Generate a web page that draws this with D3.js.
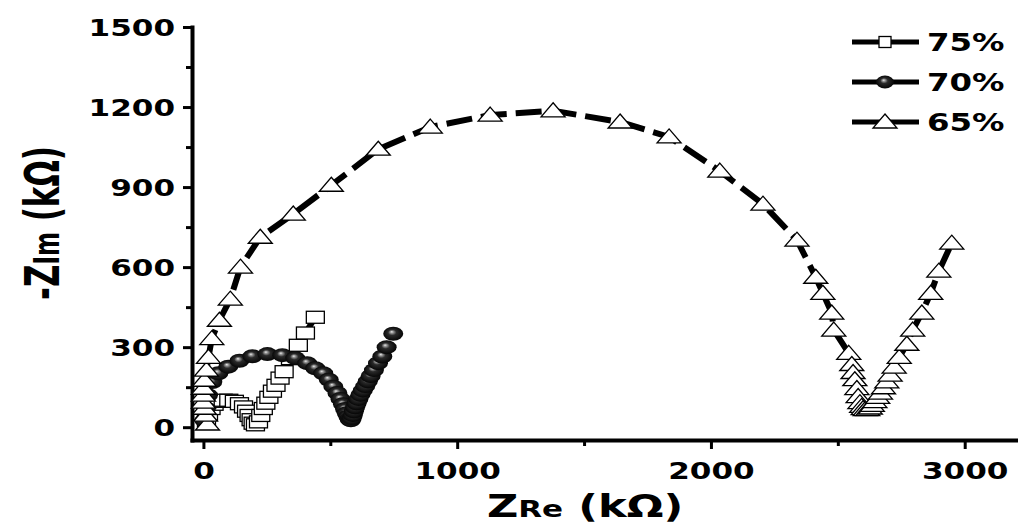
<!DOCTYPE html>
<html>
<head>
<meta charset="utf-8">
<script src="https://cdn.jsdelivr.net/npm/d3@7"></script>
<style>
body { margin: 0; background: #fff; }
svg { display: block; }
text { font-family: "DejaVu Sans", Verdana, sans-serif; font-weight: bold; fill: #000; }
</style>
</head>
<body>
<svg id="chart" width="1018" height="527"></svg>
<script>
// series (kOhm)
var x75 = [12, 20, 30, 42, 58, 78, 100, 122, 142, 158, 170, 180, 188, 196, 205, 217, 226, 236, 246, 258, 272, 286, 302, 318, 343, 374, 402, 441];
var y75 = [25, 48, 70, 86, 97, 101, 101, 97, 88, 76, 60, 44, 28, 15, 9, 20, 44, 70, 90, 112, 135, 157, 184, 208, 257, 307, 353, 412];

var x70 = [4, 10, 18, 35, 59, 98, 142, 193, 252, 311, 362, 409, 441, 472, 494, 512, 528, 540, 550, 558, 565, 571, 576, 581, 585, 589, 593, 598, 604, 611, 619, 628, 638, 648, 659, 672, 688, 705, 722, 748];
var y70 = [25, 70, 120, 169, 202, 227, 249, 266, 274, 270, 259, 240, 221, 202, 178, 152, 128, 106, 86, 68, 52, 40, 30, 26, 34, 46, 60, 75, 90, 106, 122, 138, 154, 172, 192, 214, 240, 265, 300, 350];

var x65 = [16, 8, 4, 0, 0, 0, 4, 12, 20, 33, 63, 106, 146, 224, 354, 504, 689, 894, 1130, 1378, 1642, 1835, 2035, 2205, 2339, 2413, 2441, 2476, 2484, 2543, 2555, 2560, 2567, 2575, 2580, 2587, 2594, 2600, 2608, 2618, 2628, 2636, 2646, 2657, 2668, 2680, 2693, 2706, 2722, 2742, 2772, 2795, 2831, 2866, 2898, 2949];
var y65 = [12, 45, 71, 94, 120, 146, 176, 214, 262, 332, 401, 480, 600, 712, 799, 907, 1042, 1125, 1170, 1186, 1144, 1088, 960, 836, 701, 562, 502, 428, 364, 277, 235, 205, 178, 145, 115, 92, 78, 70, 66, 66, 72, 82, 96, 112, 128, 148, 170, 195, 225, 262, 311, 364, 428, 502, 585, 690];

var seriesNames = ["75%", "70%", "65%"];
var xTicks = [0, 1000, 2000, 3000];
var xMinor = [500, 1500, 2500];
var yTicks = [0, 300, 600, 900, 1200, 1500];
var yMinor = [150, 450, 750, 1050, 1350];

var svg = d3.select("#chart");
var stretchK = 1.35; // the glyphs in the picture are wide

//scales
var x = d3.scaleLinear().domain([-45, 3210]).range([192, 1018]);
var y = d3.scaleLinear().domain([-48, 1500]).range([440, 27]);

function zip(xs, ys) {
	return xs.map(function(v, i) { return [v, ys[i]]; });
}

function stretch(sel) {
	sel.each(function() {
		var w = this.getComputedTextLength();
		d3.select(this).attr("textLength", w * stretchK).attr("lengthAdjust", "spacingAndGlyphs");
	});
}

//gradient for the ball markers
var defs = svg.append("defs");
var grad = defs.append("radialGradient").attr("id", "ball")
	.attr("cx", "50%").attr("cy", "50%").attr("r", "55%")
	.attr("fx", "42%").attr("fy", "35%");
grad.append("stop").attr("offset", "0%").attr("stop-color", "#eeeeee");
grad.append("stop").attr("offset", "14%").attr("stop-color", "#9a9a9a");
grad.append("stop").attr("offset", "38%").attr("stop-color", "#2a2a2a");
grad.append("stop").attr("offset", "100%").attr("stop-color", "#000");

//axes
var fmt = d3.format("d");
var yAxis = svg.append("g").attr("transform", "translate(192,0)")
	.call(d3.axisLeft(y).tickValues(yTicks).tickFormat(fmt).tickSize(9).tickSizeOuter(0).tickPadding(8));
var yMinorAxis = svg.append("g").attr("transform", "translate(192,0)")
	.call(d3.axisLeft(y).tickValues(yMinor).tickSize(6).tickFormat(""));
yMinorAxis.select(".domain").remove();

var xAxis = svg.append("g").attr("transform", "translate(0,440)")
	.call(d3.axisBottom(x).tickValues(xTicks).tickFormat(fmt).tickSize(9).tickSizeOuter(0).tickPadding(9));
var xMinorAxis = svg.append("g").attr("transform", "translate(0,440)")
	.call(d3.axisBottom(x).tickValues(xMinor).tickSize(6).tickFormat(""));
xMinorAxis.select(".domain").remove();

svg.selectAll(".domain").attr("stroke", "#000").attr("stroke-width", 4).attr("stroke-linecap", "square");
svg.selectAll(".tick line").attr("stroke", "#000").attr("stroke-width", 3);
svg.selectAll(".tick text").style("font-size", "23px").style("font-family", "'DejaVu Sans'").style("font-weight", "bold");
yAxis.selectAll(".tick text").attr("dy", "0.36em");
xAxis.selectAll(".tick text").attr("dy", "0.9em");
svg.selectAll(".tick text").call(stretch);

//axis titles
var xt = svg.append("text").attr("text-anchor", "middle")
	.attr("transform", "translate(585,517) scale(" + stretchK + ",1)")
	.style("font-size", "32px");
xt.append("tspan").text("Z");
xt.append("tspan").style("font-size", "23px").text("Re");
xt.append("tspan").text(" (k\u03A9)");

var yt = svg.append("text").attr("text-anchor", "middle")
	.attr("transform", "translate(59,223) rotate(-90) scale(1,1.55)")
	.style("font-size", "31px");
yt.append("tspan").text("-Z");
yt.append("tspan").style("font-size", "23px").text("Im");
yt.append("tspan").text(" (k\u03A9)");

//lines
var line = d3.line().x(function(d) { return x(d[0]); }).y(function(d) { return y(d[1]); });

function drawLine(data) {
	svg.append("path").datum(data)
		.attr("d", line)
		.attr("fill", "none")
		.attr("stroke", "#000")
		.attr("stroke-width", 6)
		.attr("stroke-dasharray", "26,9");
}

function square(g, cx, cy, w, h) {
	g.append("rect").attr("x", cx - w / 2).attr("y", cy - h / 2)
		.attr("width", w).attr("height", h)
		.attr("fill", "#fff").attr("stroke", "#000").attr("stroke-width", 1.3);
}
function ball(g, cx, cy, rx, ry) {
	g.append("ellipse").attr("cx", cx).attr("cy", cy)
		.attr("rx", rx).attr("ry", ry)
		.attr("fill", "url(#ball)");
}
function tri(g, cx, cy, w, h) {
	g.append("path")
		.attr("d", "M" + cx + "," + (cy - h * 0.57) + "L" + (cx + w / 2) + "," + (cy + h * 0.43) + "L" + (cx - w / 2) + "," + (cy + h * 0.43) + "Z")
		.attr("fill", "#fff").attr("stroke", "#000").attr("stroke-width", 1.3);
}

// 75% - squares
var d75 = zip(x75, y75);
drawLine(d75);
var g75 = svg.append("g");
d75.forEach(function(d) { square(g75, x(d[0]), y(d[1]), 18, 12); });

// 70% - balls
var d70 = zip(x70, y70);
drawLine(d70);
var g70 = svg.append("g");
d70.forEach(function(d) { ball(g70, x(d[0]), y(d[1]), 10, 7); });

// 65% - triangles
var d65 = zip(x65, y65);
drawLine(d65);
var g65 = svg.append("g");
d65.forEach(function(d) { tri(g65, x(d[0]), y(d[1]), 24, 14); });

//legend
var legY = [42, 82, 122];
var markers = [
	function(g, cx, cy) { square(g, cx, cy, 12, 11); },
	function(g, cx, cy) { ball(g, cx, cy, 9, 6.5); },
	function(g, cx, cy) { tri(g, cx, cy, 24, 14); }
];
seriesNames.forEach(function(name, i) {
	var g = svg.append("g");
	g.append("line").attr("x1", 852).attr("x2", 919)
		.attr("y1", legY[i]).attr("y2", legY[i])
		.attr("stroke", "#000").attr("stroke-width", 5);
	markers[i](g, 885, legY[i]);
	g.append("text").attr("x", 927).attr("y", legY[i]).attr("dy", "0.36em")
		.style("font-size", "24px").text(name).call(stretch);
});
</script>
</body>
</html>
